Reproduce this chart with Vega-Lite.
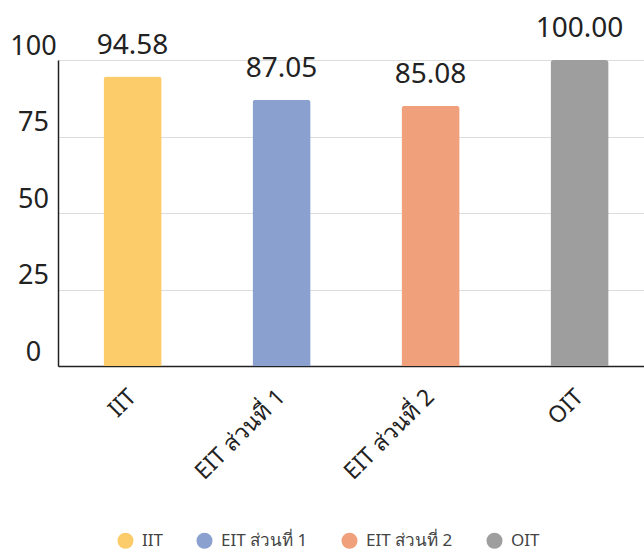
{
  "$schema": "https://vega.github.io/schema/vega-lite/v6.json",
  "autosize": {"type": "none"},
  "width": 586,
  "height": 306,
  "padding": {"left": 58, "top": 60, "right": 0, "bottom": 186},
  "background": "white",
  "data": {"values": [
    {"category": "IIT", "value": 94.58},
    {"category": "EIT ส่วนที่ 1", "value": 87.05},
    {"category": "EIT ส่วนที่ 2", "value": 85.08},
    {"category": "OIT", "value": 100.0}
  ]},
  "encoding": {
    "x": {
      "field": "category", "type": "nominal", "sort": null,
      "scale": {"paddingInner": 0.61, "paddingOuter": 0.2715, "align": 0.5625},
      "axis": {
        "title": null, "labelAngle": -45, "labelAlign": "right", "labelBaseline": "middle",
        "labelFontSize": 23, "labelFont": "Noto Sans", "labelColor": "#222",
        "ticks": false, "labelPadding": 27, "domainColor": "#222", "domainWidth": 1.5, "grid": false
      }
    },
    "y": {
      "field": "value", "type": "quantitative",
      "scale": {"domain": [0, 100], "nice": false},
      "axis": {
        "title": null, "values": [0, 25, 50, 75, 100],
        "labelFontSize": 27, "labelFont": "Noto Sans", "labelColor": "#222",
        "labelAlign": "center", "labelBaseline": "alphabetic", "labelOffset": -6,
        "ticks": false, "labelPadding": 25, "domainColor": "#222", "domainWidth": 1.5,
        "gridColor": "#dddddd", "gridWidth": 1
      }
    }
  },
  "layer": [
    {
      "mark": {"type": "bar", "cornerRadiusTopLeft": 3, "cornerRadiusTopRight": 3},
      "encoding": {
        "color": {
          "field": "category", "type": "nominal", "sort": null,
          "scale": {
            "domain": ["IIT", "EIT ส่วนที่ 1", "EIT ส่วนที่ 2", "OIT"],
            "range": ["#fccb6a", "#8aa1d0", "#f0a07a", "#9e9e9e"]
          },
          "legend": {
            "title": null, "orient": "none", "direction": "horizontal",
            "legendX": 59, "legendY": 472,
            "symbolType": "circle", "symbolSize": 256, "symbolStrokeWidth": 0,
            "labelFontSize": 17, "labelFont": "Noto Sans", "labelColor": "#444",
            "labelOffset": 8, "columnPadding": 33
          }
        }
      }
    },
    {
      "mark": {"type": "text", "baseline": "alphabetic", "dy": -23, "fontSize": 28, "font": "Noto Sans", "color": "#222"},
      "encoding": {
        "text": {"field": "value", "type": "quantitative", "format": ".2f"}
      }
    }
  ],
  "config": {"view": {"stroke": null}}
}
